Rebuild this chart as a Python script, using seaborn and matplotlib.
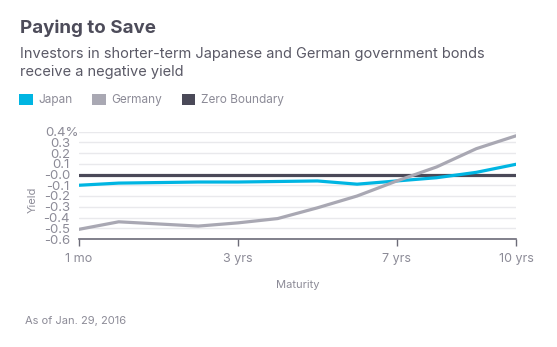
import matplotlib
matplotlib.use("Agg")
import matplotlib.pyplot as plt
import matplotlib.transforms as mtrans
from matplotlib.patches import Patch
import seaborn as sns
import pandas as pd
import numpy as np

maturities = ["1 mo", "6 mo", "1 yr", "2 yrs", "3 yrs", "4 yrs", "5 yrs",
              "6 yrs", "7 yrs", "8 yrs", "9 yrs", "10 yrs"]
japan = [-0.10, -0.08, -0.075, -0.07, -0.07, -0.065, -0.06, -0.09, -0.06, -0.03, 0.02, 0.095]
germany = [-0.51, -0.44, -0.46, -0.48, -0.45, -0.41, -0.31, -0.20, -0.06, 0.07, 0.24, 0.36]
zero_boundary = [0.0] * len(maturities)
shown_ticks = ["1 mo", "3 yrs", "7 yrs", "10 yrs"]
y_ticks = [0.4, 0.3, 0.2, 0.1, 0.0, -0.1, -0.2, -0.3, -0.4, -0.5, -0.6]
y_labels = ["0.4%", "0.3", "0.2", "0.1", "-0.0", "-0.1", "-0.2", "-0.3", "-0.4", "-0.5", "-0.6"]

series_names = ["Zero Boundary", "Japan", "Germany"]
colors = {"Japan": "#00b5e2", "Germany": "#a9a8b3", "Zero Boundary": "#4a4958"}

rows = []
for name, vals in [("Zero Boundary", zero_boundary), ("Japan", japan), ("Germany", germany)]:
    for i, v in enumerate(vals):
        rows.append({"pos": i, "Maturity": maturities[i], "Yield": v, "series": name})
df = pd.DataFrame(rows)

sns.set_theme(style="white")
plt.rcParams["font.family"] = ["Inter", "DejaVu Sans"]

W, H = 557, 347
fig = plt.figure(figsize=(W / 100, H / 100), dpi=100)
ax = fig.add_axes([79 / W, 1 - 239 / H, (516 - 79) / W, (239 - 131.5) / H])

sns.lineplot(data=df, x="pos", y="Yield", hue="series", hue_order=series_names,
             palette=colors, linewidth=2.3, ax=ax, legend=False, sort=False)

ax.set_xlim(0, len(maturities) - 1)
ax.set_ylim(-0.6, 0.4)
ax.set_yticks(y_ticks)
ax.set_yticklabels(y_labels)
tick_pos = [maturities.index(t) for t in shown_ticks]
ax.set_xticks(tick_pos)
ax.set_xticklabels(shown_ticks)

tick_color = "#8c8b97"
ax.grid(axis="y", color="#e9e9ec", linewidth=1)
ax.grid(axis="x", visible=False)
for s in ["left", "right", "top"]:
    ax.spines[s].set_visible(False)
ax.spines["bottom"].set_color("#6c6b78")
ax.spines["bottom"].set_linewidth(1.2)
ax.tick_params(axis="y", length=0, pad=6.5, labelsize=9.5, labelcolor=tick_color)
ax.tick_params(axis="x", length=5, width=1, color="#6c6b78", pad=5, labelsize=9,
               labelcolor=tick_color, direction="out", bottom=True)

# shift the "0.4%" label right so the numbers align with the others
top_label = ax.get_yticklabels()[0]
top_label.set_transform(top_label.get_transform() +
                        mtrans.ScaledTranslation(9 / 100, 0, fig.dpi_scale_trans))

ax.set_xlabel("Maturity", fontsize=8, color=tick_color, labelpad=11)
ax.set_ylabel("Yield", fontsize=8, color=tick_color)
ax.yaxis.set_label_coords(-0.094, 0.36)

text_dark = "#4d4c5a"
fig.text(20 / W, 1 - 33 / H, "Paying to Save", fontsize=13.5, fontweight="bold",
         color=text_dark, va="baseline")
fig.text(20 / W, 1 - 58 / H, "Investors in shorter-term Japanese and German government bonds",
         fontsize=10.5, color="#5a5966", va="baseline")
fig.text(20 / W, 1 - 76 / H, "receive a negative yield",
         fontsize=10.5, color="#5a5966", va="baseline")
fig.text(25 / W, 1 - 324 / H, "As of Jan. 29, 2016", fontsize=8, color=tick_color,
         va="baseline")

handles = [Patch(facecolor=colors[n], edgecolor="none", label=n)
           for n in ["Japan", "Germany", "Zero Boundary"]]
leg = fig.legend(handles=handles, loc="center left", bbox_to_anchor=(19 / W, 1 - 100 / H),
                 ncol=3, frameon=False, fontsize=8.5, handlelength=1.15, handleheight=1.15,
                 handletextpad=0.5, columnspacing=1.65, borderaxespad=0, borderpad=0)
for t in leg.get_texts():
    t.set_color(tick_color)

fig.savefig("out.png", dpi=100)
